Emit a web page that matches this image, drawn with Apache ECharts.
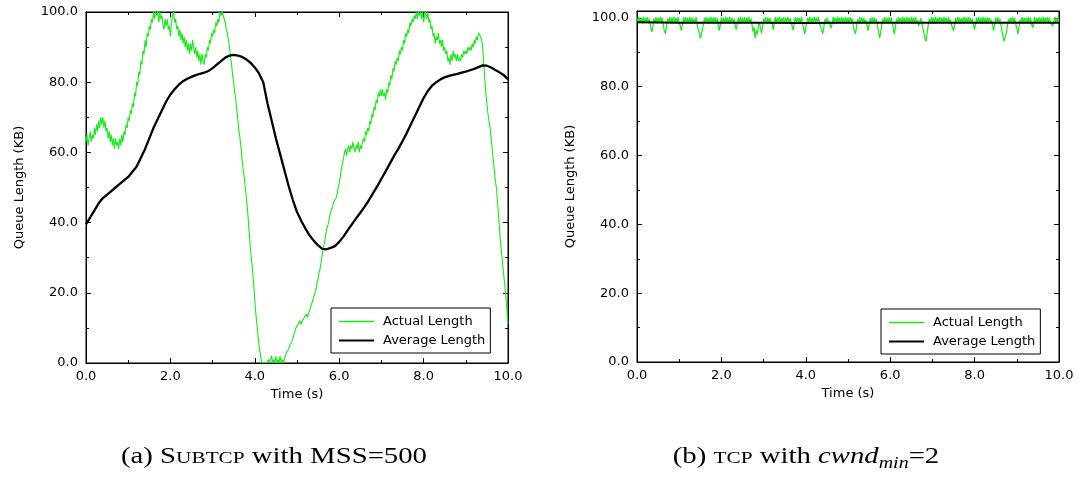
<!DOCTYPE html>
<html><head><meta charset="utf-8">
<script src="https://cdn.jsdelivr.net/npm/echarts@6/dist/echarts.min.js"></script>
<style>html,body{margin:0;padding:0;background:#fff}#c{width:1079px;height:478px}</style>
</head><body><div id="c"></div>
<script>
// ---- data ----
const seriesNames = ['Actual Length', 'Average Length'];
const xTickLabels = ['0.0', '2.0', '4.0', '6.0', '8.0', '10.0'];
const yTickLabels = ['0.0', '20.0', '40.0', '60.0', '80.0', '100.0'];

// (a) SUBTCP, actual queue length, sampled every 0.025 s from 0 to 10 s
const subtcpStep = 0.025;
const subtcpActual = [
63,65,62,64,66,63,65,64,67,65,68,66,69,67,70,68,70,67,69,66,67,64,66,63,65,62,64,61,64,62,63,61,64,62,65,63,66,65,68,67,
70,69,72,71,74,73,77,76,80,79,83,82,86,85,89,88,92,90,94,93,96,95,98,97,100,98,100,99,100,97,100,98,99,96,95,98,96,98,95,96,
93,97,99,100,97,98,95,96,93,95,92,94,91,93,90,92,89,91,88,91,89,92,90,88,90,87,89,86,88,85,88,86,85,88,87,90,89,92,91,94,
93,95,94,97,96,98,97,100,99,100,99,98,97,95,94,92,90,87,85,82,80,77,75,72,69,66,64,61,58,55,53,50,47,44,40,36,32,29,26,22,
18,14,11,8,5,3,1,0,0,0,0,0,0,1,0,0,2,0,1,0,2,0,1,0,2,0,1,0,1,2,3,3,4,5,5,6,7,8,9,10,
10,11,11,12,11,12,12,13,13,14,13,14,14,16,17,18,19,20,21,23,24,26,27,29,31,33,34,36,38,39,40,42,43,44,45,46,46,47,48,50,
51,53,55,57,58,60,61,59,61,62,60,62,61,63,61,60,62,61,63,60,62,61,63,64,63,66,65,67,66,69,68,71,70,73,72,75,74,77,76,78,
76,78,76,77,75,78,77,80,79,82,81,84,83,86,85,87,86,89,88,90,89,92,91,94,93,95,94,97,96,98,97,99,98,100,98,100,99,100,98,100,
97,99,100,98,100,97,98,95,96,93,94,91,93,92,94,91,92,90,92,89,90,88,89,86,87,85,88,86,89,87,88,86,88,86,87,86,88,87,89,88,
89,88,90,89,90,89,91,90,92,91,93,92,94,94,93,92,90,85,81,77,74,71,69,67,64,61,58,55,52,50,46,42,38,34,31,28,25,22,19,15,
11];

// (a) SUBTCP, average queue length, every 0.1 s
const avgStep = 0.1;
const subtcpAverage = [
39.5,41.5,43.5,45.5,47,48,49,50,51,52,
53,54.5,56,58.5,61,64,67,69.5,72,74.5,
76.5,78,79.3,80.3,81,81.5,82,82.4,82.7,83.2,
84,85,86,87,87.6,87.8,87.6,87.2,86.5,85.5,
84.2,82.5,80,74,69,64,59.5,55,50.5,46.5,
43,40.5,38.3,36.3,34.8,33.5,32.5,32.4,32.8,33.3,
34.5,36,37.8,39.5,41.2,42.8,44.5,46.3,48.3,50.3,
52.5,54.6,56.8,59,61,63.2,65.5,68,70.5,73,
75.5,77.5,79,80,80.8,81.4,81.8,82.1,82.4,82.7,
83,83.4,83.8,84.3,84.8,84.7,84.2,83.5,82.8,82,
80.8];

// (b) TCP, actual queue length, every 0.025 s
const tcpStep = 0.025;
const tcpActual = [
100.1,98.5,100.2,98.7,100.0,98.4,100.3,98.6,100.1,98.8,100.2,98.3,99.6,97.4,95.9,97.2,99.8,98.6,100.2,98.4,
100.1,98.7,100.3,98.5,100.0,97.6,96.3,95.4,97.5,99.9,98.6,100.2,98.4,100.1,98.8,100.3,98.5,100.0,98.7,100.2,
98.5,97.8,96.2,98.0,100.1,98.6,100.2,98.4,100.0,98.7,100.3,98.5,100.1,98.6,99.8,98.4,100.2,97.9,97.0,95.5,
94.1,95.0,96.8,98.2,100.1,98.6,100.2,98.4,100.0,98.7,100.3,98.5,100.1,98.6,100.2,98.4,99.9,97.8,96.2,98.1,
100.2,98.6,100.0,98.5,100.3,98.7,100.1,98.4,100.2,98.6,100.0,98.5,99.7,97.9,96.6,98.2,100.1,98.7,100.3,98.5,
100.1,98.6,100.2,98.4,100.0,98.7,100.3,98.5,99.8,98.0,96.0,97.2,94.0,96.4,95.2,97.6,98.8,97.0,95.5,97.4,
99.8,98.6,100.2,98.5,100.1,98.7,100.0,98.3,98.9,96.6,98.2,100.2,98.5,100.1,98.7,100.3,98.4,100.0,98.6,100.2,
98.5,100.1,98.7,100.3,98.4,100.0,98.6,97.8,96.4,98.3,100.2,98.5,100.1,98.7,100.0,98.4,100.3,98.2,97.0,95.3,
97.2,98.8,100.1,98.5,100.2,98.7,100.0,98.4,100.3,98.6,100.1,98.5,100.2,98.3,97.4,96.5,95.3,97.0,99.6,98.5,
100.1,98.6,99.2,98.0,97.0,98.4,100.2,98.7,100.0,98.5,100.3,98.6,100.1,98.4,100.2,98.7,100.0,98.5,100.2,98.6,
100.1,98.4,100.3,98.7,99.8,97.6,96.4,95.3,97.1,99.5,98.6,100.2,98.5,100.1,98.7,100.0,98.4,99.4,97.8,96.2,
98.0,99.9,98.6,100.2,98.5,100.1,98.7,99.6,97.5,96.0,94.1,95.8,97.9,99.8,98.5,100.2,98.6,100.0,98.4,100.3,
98.6,100.1,98.3,96.8,95.3,97.4,99.7,98.5,100.2,98.7,100.0,98.4,100.3,98.6,100.1,98.5,100.2,98.7,100.0,98.4,
100.3,98.6,100.1,98.5,100.2,98.7,99.4,97.6,98.8,100.0,98.4,97.0,95.5,94.0,93.2,95.6,97.8,99.7,98.5,100.2,
98.6,100.1,98.4,100.3,98.7,100.0,98.5,100.2,98.6,100.1,98.4,100.3,98.7,100.0,98.5,100.2,98.6,99.5,97.9,97.2,
96.2,97.8,99.9,98.5,100.2,98.7,100.1,98.4,100.0,98.6,100.3,98.5,100.1,98.7,100.2,98.4,100.0,98.6,99.6,97.9,
96.6,98.3,100.1,98.5,100.2,98.7,100.0,98.4,100.3,98.6,100.1,98.5,100.2,98.7,100.0,98.4,99.5,97.8,96.2,98.1,
100.1,98.6,100.2,98.4,99.7,97.8,96.0,94.6,93.2,94.5,95.5,97.4,99.6,98.5,100.1,98.7,100.3,98.4,100.0,98.2,
97.0,95.3,97.2,99.4,98.6,100.2,98.5,100.1,98.7,100.0,98.4,100.3,98.6,100.1,98.2,97.1,98.4,100.2,98.5,100.0,
98.7,100.2,98.4,100.1,98.6,100.3,98.5,100.0,98.7,100.2,98.4,100.1,98.6,98.9,97.6,98.6,100.2,98.5,100.1,98.7,
100.0];

// (b) TCP, average queue length, every 1 s
const tcpAvgStep = 1;
const tcpAverage = [98.7,98.6,98.6,98.6,98.5,98.6,98.6,98.6,98.6,98.6,98.6];

// ---- build ----
function pairs(arr, step) { return arr.map((v, i) => [+(i * step).toFixed(3), v]); }

const GREEN = '#19ea19';
const FONT = 'DejaVu Sans';

function xAx(grid, top) {
  return {
    type: 'value', gridIndex: grid, position: top ? 'top' : 'bottom',
    min: 0, max: 10, interval: 2,
    name: top ? '' : 'Time (s)', nameLocation: 'middle', nameGap: 25,
    nameTextStyle: { fontFamily: FONT, fontSize: 13, color: '#000' },
    axisLine: { show: true, onZero: false, lineStyle: { color: '#000', width: 1 } },
    axisTick: { show: true, inside: true, length: 5, lineStyle: { color: '#000' } },
    minorTick: { show: true, splitNumber: 2, length: 3, lineStyle: { color: '#000' } },
    axisLabel: { show: !top, fontFamily: FONT, fontSize: 13, color: '#000', margin: 7,
      formatter: v => xTickLabels[Math.round(v / 2)] || '' },
    splitLine: { show: false }
  };
}
function yAx(grid, right, max) {
  return {
    type: 'value', gridIndex: grid, position: right ? 'right' : 'left',
    min: 0, max: max, interval: 20,
    name: right ? '' : 'Queue Length (KB)', nameLocation: 'middle', nameGap: 60,
    nameTextStyle: { fontFamily: FONT, fontSize: 13, color: '#000' },
    axisLine: { show: true, onZero: false, lineStyle: { color: '#000', width: 1 } },
    axisTick: { show: true, inside: true, length: 5, lineStyle: { color: '#000' } },
    minorTick: { show: true, splitNumber: 2, length: 3, lineStyle: { color: '#000' } },
    axisLabel: { show: !right, fontFamily: FONT, fontSize: 13, color: '#000', margin: 8,
      formatter: v => (Math.abs(v / 20 - Math.round(v / 20)) < 1e-9) ? (yTickLabels[Math.round(v / 20)] || '') : '' },
    splitLine: { show: false }
  };
}
function legend(left, top) {
  return {
    data: [
      { name: seriesNames[0], icon: 'path://M0,0h35v1.3h-35z', itemStyle: { color: GREEN } },
      { name: seriesNames[1], icon: 'path://M0,0h35v2.2h-35z', itemStyle: { color: '#000' } }
    ],
    orient: 'vertical', left: left, top: top,
    backgroundColor: '#fff', borderColor: '#000', borderWidth: 1, borderRadius: 0,
    padding: [7, 5, 6, 8], itemGap: 6, itemWidth: 35, itemHeight: 14, symbolKeepAspect: true,
    textStyle: { fontFamily: FONT, fontSize: 13, color: '#000', padding: [0, 0, 0, 4] },
    selectedMode: false
  };
}

const chart = echarts.init(document.getElementById('c'), null, { renderer: 'canvas' });
chart.setOption({
  animation: false,
  backgroundColor: '#fff',
  grid: [
    { left: 86, top: 12, width: 422, height: 351, show: true, borderColor: '#000', borderWidth: 1, backgroundColor: 'transparent' },
    { left: 637, top: 11, width: 422, height: 351, show: true, borderColor: '#000', borderWidth: 1, backgroundColor: 'transparent' }
  ],
  xAxis: [xAx(0, false), xAx(0, true), xAx(1, false), xAx(1, true)],
  yAxis: [yAx(0, false, 100), yAx(0, true, 100), yAx(1, false, 102), yAx(1, true, 102)],
  legend: [legend(331, 308), legend(881, 309)],
  series: [
    { name: seriesNames[0], type: 'line', xAxisIndex: 0, yAxisIndex: 0, data: pairs(subtcpActual, subtcpStep),
      symbol: 'none', lineStyle: { color: GREEN, width: 1.1 }, itemStyle: { color: GREEN }, z: 2 },
    { name: seriesNames[1], type: 'line', xAxisIndex: 0, yAxisIndex: 0, data: pairs(subtcpAverage, avgStep),
      symbol: 'none', lineStyle: { color: '#000', width: 2.3 }, itemStyle: { color: '#000' }, z: 3 },
    { name: seriesNames[0], type: 'line', xAxisIndex: 2, yAxisIndex: 2, data: pairs(tcpActual, tcpStep),
      symbol: 'none', lineStyle: { color: GREEN, width: 1.2 }, itemStyle: { color: GREEN }, z: 2 },
    { name: seriesNames[1], type: 'line', xAxisIndex: 2, yAxisIndex: 2, data: pairs(tcpAverage, tcpAvgStep),
      symbol: 'none', lineStyle: { color: '#000', width: 2 }, itemStyle: { color: '#000' }, z: 3 }
  ],
  graphic: [
    { type: 'text', x: 274, y: 457, scaleX: 1.25, originX: 0, originY: 0, style: {
        text: '{n|(a) S}{s|UBTCP}{n| with MSS=500}', align: 'center', verticalAlign: 'middle',
        rich: {
          n: { fontFamily: 'Liberation Serif', fontSize: 23, fill: '#000', lineHeight: 30 },
          s: { fontFamily: 'Liberation Serif', fontSize: 17, fill: '#000', lineHeight: 30, padding: [4, 0, 0, 0] }
        } } },
    { type: 'text', x: 806, y: 457, scaleX: 1.25, originX: 0, originY: 0, style: {
        text: '{n|(b) }{s|TCP}{n| with }{i|cwnd}{sub|min}{n|=2}', align: 'center', verticalAlign: 'middle',
        rich: {
          n: { fontFamily: 'Liberation Serif', fontSize: 23, fill: '#000', lineHeight: 30 },
          s: { fontFamily: 'Liberation Serif', fontSize: 17, fill: '#000', lineHeight: 30, padding: [4, 0, 0, 0] },
          i: { fontFamily: 'Liberation Serif', fontStyle: 'italic', fontSize: 23, fill: '#000', lineHeight: 30 },
          sub: { fontFamily: 'Liberation Serif', fontStyle: 'italic', fontSize: 16, fill: '#000', lineHeight: 30, padding: [13, 0, 0, 0] }
        } } }
  ]
});
</script>
</body></html>
